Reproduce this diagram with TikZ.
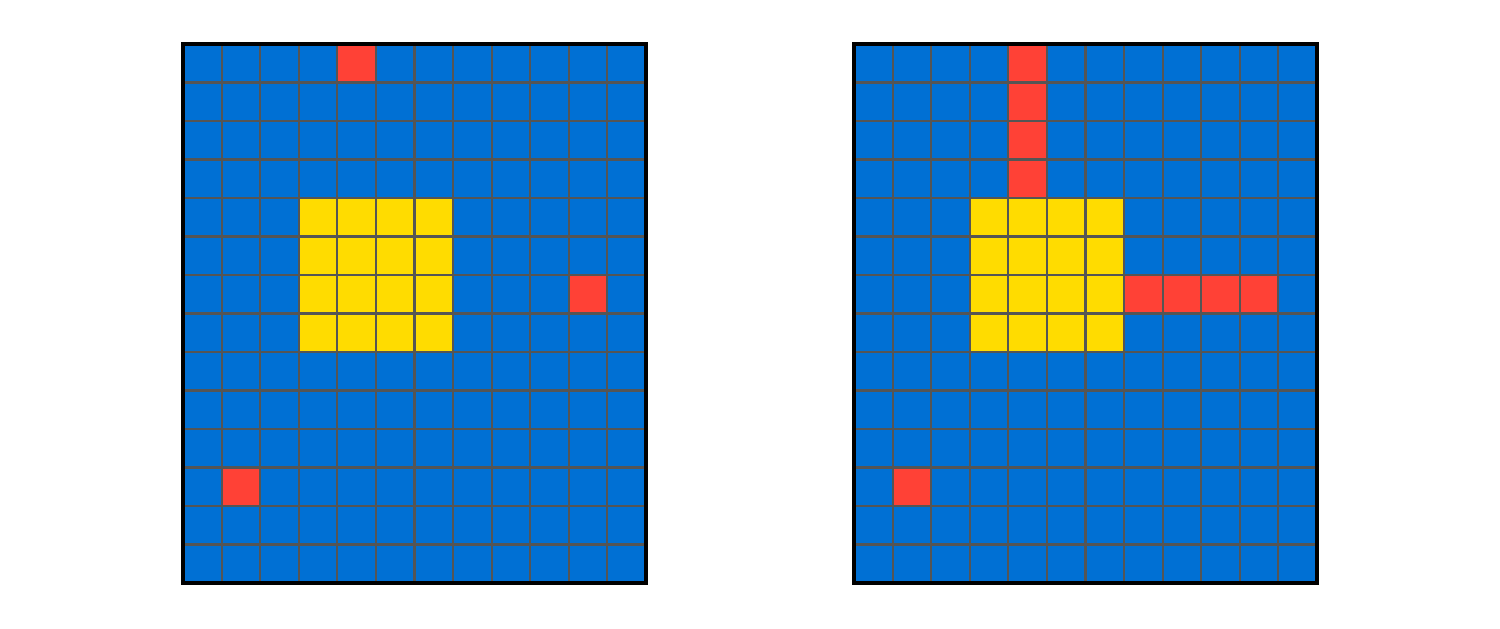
\documentclass[tikz,border=0pt]{standalone}
\definecolor{boardblue}{HTML}{0070D4}
\definecolor{cellred}{HTML}{FF4136}
\definecolor{blockyellow}{HTML}{FFDC00}
\definecolor{gridgray}{HTML}{555555}
\tikzset{
  board/.style={x=0.3858cm, y=-0.385cm},
  gridline/.style={draw=gridgray, line width=0.6pt},
  frame/.style={draw=black, line width=0.9pt},
  hit/.style={fill=cellred},
  block/.style={fill=blockyellow},
}
\begin{document}
\begin{tikzpicture}
\useasboundingbox (0,0) rectangle (15,-6.29);
% left board
\begin{scope}[shift={(1.83cm,-0.44cm)}, board]
  \fill[boardblue] (0,0) rectangle (12,14);
  \fill[block] (3,4) rectangle (7,8);
  \foreach \c/\r in {4/0, 10/6, 1/11}
    \fill[hit] (\c,\r) rectangle ++(1,1);
  \foreach \i in {1,...,11} \draw[gridline] (\i,0) -- (\i,14);
  \foreach \j in {1,...,13} \draw[gridline] (0,\j) -- (12,\j);
  \draw[frame] (0,0) rectangle (12,14);
\end{scope}
% right board
\begin{scope}[shift={(8.54cm,-0.44cm)}, board]
  \fill[boardblue] (0,0) rectangle (12,14);
  \fill[block] (3,4) rectangle (7,8);
  \foreach \c/\r in {4/0, 4/1, 4/2, 4/3, 7/6, 8/6, 9/6, 10/6, 1/11}
    \fill[hit] (\c,\r) rectangle ++(1,1);
  \foreach \i in {1,...,11} \draw[gridline] (\i,0) -- (\i,14);
  \foreach \j in {1,...,13} \draw[gridline] (0,\j) -- (12,\j);
  \draw[frame] (0,0) rectangle (12,14);
\end{scope}
\end{tikzpicture}
\end{document}
